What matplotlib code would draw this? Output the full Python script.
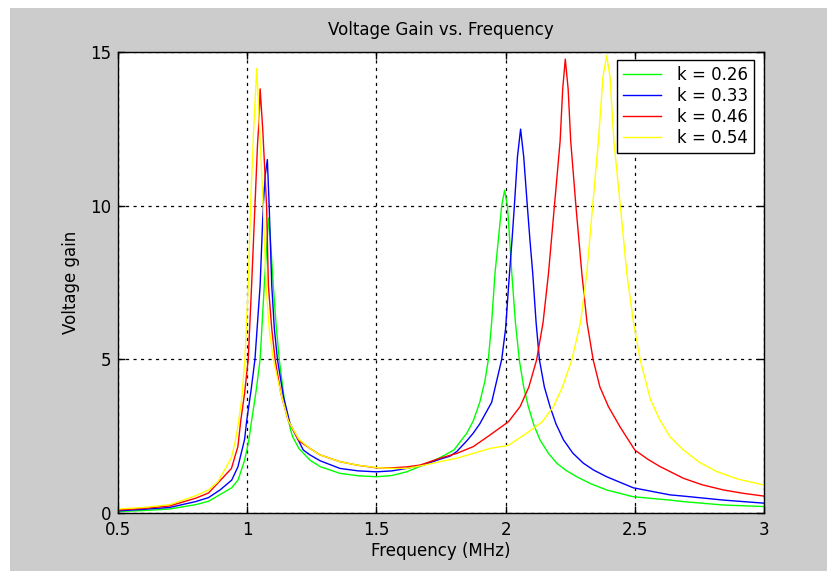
import matplotlib
matplotlib.use("Agg")
import matplotlib.pyplot as plt
from matplotlib.patches import Rectangle

# ---- data ----
labels = ["k = 0.26", "k = 0.33", "k = 0.46", "k = 0.54"]
colors = ["#00ff00", "#0000ff", "#ff0000", "#ffff00"]

f_026 = [0.50, 0.60, 0.70, 0.80, 0.85, 0.895, 0.94, 0.965, 0.99, 1.005, 1.017, 1.035, 1.050, 1.066,
         1.075, 1.083, 1.090, 1.101, 1.112, 1.124, 1.145, 1.168, 1.176, 1.20, 1.243, 1.282, 1.359,
         1.43, 1.50, 1.56, 1.617, 1.682, 1.746, 1.80, 1.85, 1.875, 1.90, 1.92, 1.933, 1.946, 1.959,
         1.972, 1.985, 1.996, 2.007, 2.015, 2.024, 2.038, 2.053, 2.07, 2.088, 2.11, 2.133, 2.165,
         2.198, 2.235, 2.275, 2.33, 2.391, 2.493, 2.636, 2.688, 2.843, 3.0]
g_026 = [0.05, 0.08, 0.13, 0.27, 0.38, 0.60, 0.82, 1.08, 1.72, 2.3, 3.0, 4.0, 5.0, 7.4,
         8.6, 9.6, 8.9, 7.4, 6.1, 5.0, 3.6, 2.7, 2.48, 2.1, 1.72, 1.51, 1.29,
         1.21, 1.18, 1.22, 1.34, 1.56, 1.8, 2.05, 2.6, 3.0, 3.6, 4.3, 4.98, 6.2, 7.8,
         8.9, 10.0, 10.5, 10.0, 9.0, 7.8, 6.2, 4.98, 4.1, 3.46, 2.85, 2.38, 1.95,
         1.62, 1.38, 1.18, 0.95, 0.75, 0.53, 0.42, 0.37, 0.26, 0.21]

f_033 = [0.50, 0.60, 0.70, 0.80, 0.85, 0.895, 0.94, 0.964, 0.99, 0.998, 1.015, 1.030, 1.050, 1.062,
         1.070, 1.078, 1.085, 1.095, 1.105, 1.117, 1.14, 1.166, 1.217, 1.243, 1.282, 1.359, 1.43,
         1.50, 1.56, 1.617, 1.682, 1.746, 1.785, 1.811, 1.85, 1.875, 1.90, 1.946, 1.985, 2.000,
         2.015, 2.025, 2.034, 2.046, 2.058, 2.070, 2.084, 2.095, 2.105, 2.118, 2.131, 2.15, 2.172,
         2.195, 2.224, 2.26, 2.301, 2.34, 2.391, 2.494, 2.636, 2.688, 2.843, 3.0]
g_033 = [0.07, 0.12, 0.18, 0.37, 0.50, 0.75, 1.07, 1.5, 2.4, 3.0, 4.0, 5.0, 7.4, 10.0,
         11.0, 11.5, 10.0, 7.4, 6.0, 5.0, 3.8, 2.9, 2.05, 1.89, 1.70, 1.45, 1.37,
         1.34, 1.37, 1.45, 1.56, 1.75, 1.85, 2.0, 2.35, 2.6, 2.9, 3.6, 5.0, 6.0,
         7.8, 8.9, 10.0, 11.6, 12.49, 11.6, 10.0, 8.8, 7.8, 6.2, 4.98, 4.1, 3.46,
         2.9, 2.38, 1.95, 1.62, 1.4, 1.18, 0.82, 0.59, 0.55, 0.42, 0.32]

f_046 = [0.50, 0.60, 0.70, 0.80, 0.85, 0.895, 0.939, 0.964, 0.975, 0.99, 1.004, 1.017, 1.030, 1.040,
         1.046, 1.050, 1.060, 1.075, 1.082, 1.095, 1.108, 1.13, 1.159, 1.20, 1.243, 1.282, 1.359,
         1.43, 1.50, 1.56, 1.617, 1.669, 1.746, 1.811, 1.875, 1.94, 2.011, 2.056, 2.09, 2.120, 2.145,
         2.166, 2.189, 2.211, 2.221, 2.231, 2.242, 2.252, 2.272, 2.295, 2.315, 2.339, 2.365, 2.398,
         2.443, 2.50, 2.55, 2.598, 2.688, 2.76, 2.843, 2.92, 3.0]
g_046 = [0.10, 0.15, 0.23, 0.48, 0.65, 1.05, 1.45, 2.16, 3.0, 3.9, 5.0, 7.4, 10.0, 12.0,
         12.8, 13.8, 12.5, 10.0, 7.4, 6.0, 5.0, 3.9, 3.0, 2.35, 2.1, 1.89, 1.67,
         1.55, 1.47, 1.47, 1.50, 1.56, 1.78, 1.94, 2.16, 2.54, 2.97, 3.46, 4.1, 4.98, 6.2,
         7.8, 10.0, 12.1, 13.8, 14.77, 13.8, 12.1, 10.0, 7.8, 6.2, 4.98, 4.1, 3.46,
         2.8, 2.05, 1.75, 1.51, 1.13, 0.92, 0.75, 0.64, 0.55]

f_054 = [0.50, 0.60, 0.70, 0.80, 0.85, 0.887, 0.939, 0.953, 0.964, 0.980, 0.991, 1.004, 1.013, 1.025,
         1.037, 1.048, 1.062, 1.073, 1.085, 1.101, 1.13, 1.159, 1.20, 1.243, 1.282, 1.359, 1.43,
         1.50, 1.56, 1.617, 1.682, 1.746, 1.811, 1.875, 1.94, 2.011, 2.082, 2.14, 2.185, 2.22, 2.256,
         2.29, 2.314, 2.337, 2.359, 2.377, 2.391, 2.404, 2.419, 2.444, 2.469, 2.495, 2.521, 2.56,
         2.597, 2.636, 2.688, 2.75, 2.817, 2.9, 3.0]
g_054 = [0.13, 0.18, 0.27, 0.56, 0.75, 1.02, 1.8, 2.3, 2.8, 3.8, 5.0, 7.4, 10.0, 12.5,
         14.46, 12.5, 10.0, 7.4, 6.0, 5.0, 3.9, 3.0, 2.4, 2.1, 1.89, 1.67, 1.55,
         1.48, 1.45, 1.45, 1.55, 1.67, 1.78, 1.94, 2.1, 2.2, 2.6, 2.95, 3.46, 4.1, 4.98,
         6.2, 7.8, 10.0, 12.1, 14.2, 14.88, 14.2, 12.1, 10.0, 7.8, 6.2, 4.98, 3.7,
         3.03, 2.48, 2.05, 1.65, 1.35, 1.1, 0.91]

freqs = [f_026, f_033, f_046, f_054]
gains = [g_026, g_033, g_046, g_054]

xticks = [0.5, 1, 1.5, 2, 2.5, 3]
xticklabels = ["0.5", "1", "1.5", "2", "2.5", "3"]
yticks = [0, 5, 10, 15]
yticklabels = ["0", "5", "10", "15"]

# ---- figure ----
W, H = 827, 571
fig = plt.figure(figsize=(W / 100, H / 100), dpi=100, facecolor="white")
bg = Rectangle((10 / W, 0), 1 - 10 / W, 1 - 8 / H, transform=fig.transFigure,
               facecolor="#cccccc", edgecolor="none", zorder=-10)
fig.add_artist(bg)

ax = fig.add_axes([118 / W, 1 - 513 / H, (764 - 118) / W, (513 - 52) / H])
ax.set_zorder(5)
ax.set_facecolor("white")

for f, g, c, lab in zip(freqs, gains, colors, labels):
    ax.plot(f, g, color=c, linewidth=1.0, label=lab)

ax.set_xlim(0.5, 3)
ax.set_ylim(0, 15)
ax.set_xticks(xticks)
ax.set_xticklabels(xticklabels)
ax.set_yticks(yticks)
ax.set_yticklabels(yticklabels)
ax.grid(True, color="black", linestyle=(0, (2.5, 3.5)), linewidth=0.9)
ax.tick_params(direction="in", top=True, right=True, length=5, width=1,
               labelsize=12, colors="black")
ax.tick_params(axis="x", pad=6)
ax.tick_params(axis="y", pad=5)
for s in ax.spines.values():
    s.set_linewidth(1.0)
    s.set_color("black")

ax.set_title("Voltage Gain vs. Frequency", fontsize=12, pad=12, color="black")
ax.set_xlabel("Frequency (MHz)", fontsize=12, labelpad=2)
ax.set_ylabel("Voltage gain", fontsize=12, labelpad=7)

leg = ax.legend(loc="upper right", bbox_to_anchor=((754 - 118) / 646, (513 - 60) / 461),
                borderaxespad=0, fontsize=12, fancybox=False, framealpha=1,
                edgecolor="black", handlelength=2.3, handletextpad=0.95,
                labelspacing=0.18, borderpad=0.35)
leg.get_frame().set_linewidth(1.0)

fig.savefig("out.png", dpi=100, facecolor=fig.get_facecolor())
